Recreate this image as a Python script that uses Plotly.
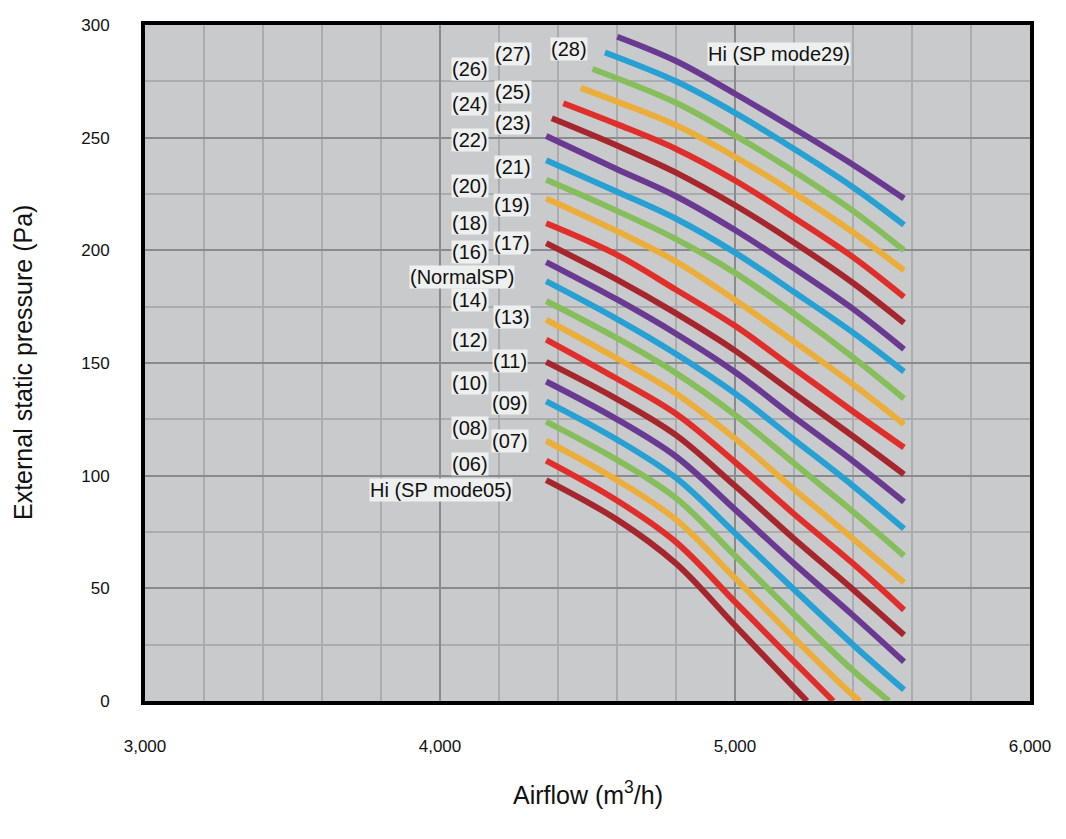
import plotly.graph_objects as go

# ---- data ----
mode_numbers = [f"{n:02d}" for n in range(5, 29)]

airflow = [
    [4360, 4600, 4800, 5000, 5200, 5244],
    [4360, 4600, 4800, 5000, 5200, 5333],
    [4360, 4600, 4800, 5000, 5200, 5400, 5424],
    [4360, 4600, 4800, 5000, 5200, 5400, 5522],
    [4360, 4600, 4800, 5000, 5200, 5400, 5573],
    [4360, 4600, 4800, 5000, 5200, 5400, 5573],
    [4360, 4600, 4800, 5000, 5200, 5400, 5573],
    [4360, 4600, 4800, 5000, 5200, 5400, 5573],
    [4360, 4600, 4800, 5000, 5200, 5400, 5573],
    [4360, 4600, 4800, 5000, 5200, 5400, 5573],
    [4360, 4600, 4800, 5000, 5200, 5400, 5573],
    [4360, 4600, 4800, 5000, 5200, 5400, 5573],
    [4360, 4600, 4800, 5000, 5200, 5400, 5573],
    [4360, 4600, 4800, 5000, 5200, 5400, 5573],
    [4360, 4600, 4800, 5000, 5200, 5400, 5573],
    [4360, 4600, 4800, 5000, 5200, 5400, 5573],
    [4360, 4600, 4800, 5000, 5200, 5400, 5573],
    [4360, 4600, 4800, 5000, 5200, 5400, 5573],
    [4379, 4600, 4800, 5000, 5200, 5400, 5573],
    [4418, 4600, 4800, 5000, 5200, 5400, 5573],
    [4477, 4600, 4800, 5000, 5200, 5400, 5573],
    [4517, 4800, 5000, 5200, 5400, 5573],
    [4559, 4800, 5000, 5200, 5400, 5573],
    [4601, 4800, 5000, 5200, 5400, 5573],
]

pressure = [
    [98.0, 80.5, 61.0, 33.5, 6.0, 0],
    [106.7, 89.0, 70.5, 44.0, 17.5, 0],
    [115.5, 98.0, 80.5, 54.5, 28.0, 2.5, 0],
    [124.0, 107.0, 90.0, 64.5, 38.5, 13.5, 0],
    [133.0, 116.0, 99.0, 74.5, 49.5, 25.0, 5.0],
    [141.8, 125.0, 108.5, 85.0, 61.0, 38.0, 17.4],
    [150.5, 134.0, 118.0, 95.5, 72.0, 49.5, 29.3],
    [160.4, 143.0, 127.5, 106.0, 83.0, 61.0, 40.4],
    [169.2, 152.0, 136.5, 116.5, 94.0, 72.0, 52.6],
    [177.5, 161.0, 145.5, 127.0, 105.5, 84.0, 64.5],
    [186.3, 169.5, 154.0, 136.5, 116.0, 95.5, 76.4],
    [194.8, 178.2, 163.0, 146.0, 126.0, 106.5, 88.4],
    [203.2, 187.0, 172.0, 155.5, 136.5, 117.5, 100.6],
    [212.0, 198.0, 182.5, 166.5, 147.5, 128.5, 112.5],
    [223.0, 208.5, 195.0, 178.0, 159.5, 140.5, 122.8],
    [231.3, 217.5, 205.0, 190.0, 172.0, 152.5, 134.2],
    [240.0, 226.0, 214.0, 199.0, 181.5, 163.5, 146.2],
    [250.7, 236.0, 224.0, 209.0, 192.0, 174.0, 156.1],
    [258.6, 246.5, 234.5, 220.0, 203.5, 185.5, 167.8],
    [265.3, 256.0, 245.0, 231.0, 214.5, 197.0, 179.3],
    [272.1, 266.0, 255.5, 241.5, 225.5, 208.0, 191.1],
    [280.5, 265.5, 251.0, 235.0, 217.5, 200.0],
    [287.8, 275.0, 261.0, 245.0, 228.0, 211.3],
    [294.8, 284.0, 269.5, 254.0, 238.0, 223.0],
]

palette = ["#A6262D", "#E02F2A", "#EBAE3B", "#86BE5C", "#27A0D4", "#6A3A92"]

label_texts = ["Hi (SP mode05)", "(06)", "(07)", "(08)", "(09)", "(10)", "(11)", "(12)",
               "(13)", "(14)", "(NormalSP)", "(16)", "(17)", "(18)", "(19)", "(20)",
               "(21)", "(22)", "(23)", "(24)", "(25)", "(26)", "(27)", "(28)",
               "Hi (SP mode29)"]
label_x = [4003, 4102, 4237, 4102, 4237, 4102, 4237, 4102,
           4244, 4102, 4075, 4102, 4244, 4102, 4244, 4102,
           4247, 4102, 4247, 4102, 4247, 4102, 4247, 4437,
           5149]
label_y = [93.7, 105.1, 115.2, 121.3, 132.3, 141.0, 150.7, 160.3,
           170.4, 177.8, 188.3, 199.3, 203.2, 212.0, 220.3, 228.6,
           237.0, 248.8, 256.7, 265.0, 270.3, 280.3, 287.3, 289.5,
           287.3]

x_ticks = [3000, 4000, 5000, 6000]
y_ticks = [0, 50, 100, 150, 200, 250, 300]

FONT = "Liberation Sans, Arial, sans-serif"

fig = go.Figure()
for i, (xs, ys) in enumerate(zip(airflow, pressure)):
    fig.add_trace(go.Scatter(
        x=xs, y=ys, mode="lines",
        line=dict(color=palette[i % len(palette)], width=6, shape="spline", smoothing=1.0),
        name=mode_numbers[i], showlegend=False, hoverinfo="x+y",
    ))

for t, lx, ly in zip(label_texts, label_x, label_y):
    fig.add_annotation(x=lx, y=ly, xref="x", yref="y", text=t, showarrow=False,
                       font=dict(family=FONT, size=20, color="#111111"),
                       bgcolor="#EEEFEF", borderpad=0)

fig.add_annotation(x=(23 - 145) / 885, y=0.5, xref="paper", yref="paper",
                   xanchor="center", yanchor="middle",
                   text="External static pressure (Pa)", textangle=-90, showarrow=False,
                   font=dict(family=FONT, size=25, color="#111111"))
fig.add_annotation(x=0.5, y=(703 - 796) / 685, xref="paper", yref="paper",
                   xanchor="center", yanchor="middle",
                   text="Airflow (m<sup>3</sup>/h)", showarrow=False,
                   font=dict(family=FONT, size=25, color="#111111"))

fig.update_layout(
    width=1066, height=839,
    margin=dict(l=137, r=44, t=8, b=146),
    paper_bgcolor="white", plot_bgcolor="#C9CACC",
    font=dict(family=FONT, size=17, color="#111111"),
)
fig.update_xaxes(
    range=[3000, 6000], tickvals=x_ticks, tickformat=",d",
    showgrid=True, gridcolor="#8A8B8D", gridwidth=2,
    minor=dict(dtick=200, showgrid=True, gridcolor="#ABACAE", gridwidth=1.5),
    showline=True, linecolor="black", linewidth=4, mirror=True,
    zeroline=False, ticks="", ticklabelstandoff=27,
    tickfont=dict(family=FONT, size=17),
)
fig.update_yaxes(
    range=[0, 300], tickvals=y_ticks,
    showgrid=True, gridcolor="#8A8B8D", gridwidth=2,
    minor=dict(dtick=25, showgrid=True, gridcolor="#ABACAE", gridwidth=1.5),
    showline=True, linecolor="black", linewidth=4, mirror=True,
    zeroline=False, ticks="", ticklabelstandoff=28,
    tickfont=dict(family=FONT, size=17),
)

fig.write_html("out.html")
